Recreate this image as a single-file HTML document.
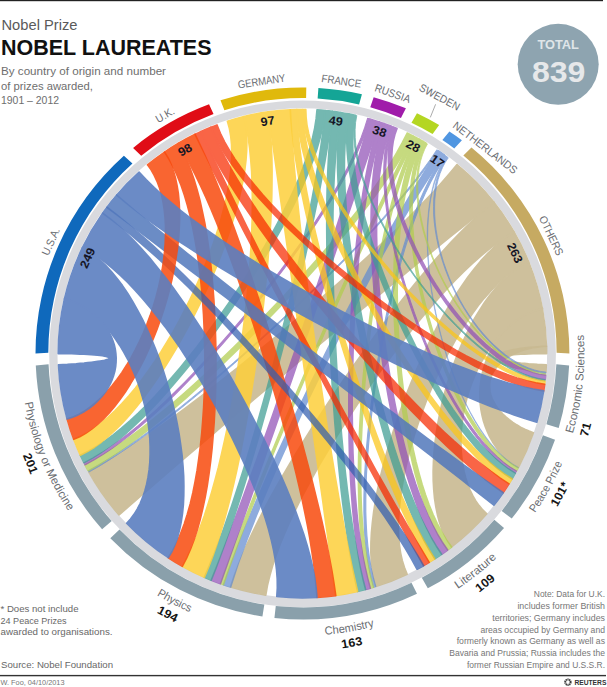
<!DOCTYPE html>
<html><head><meta charset="utf-8"><title>Nobel Laureates</title>
<style>html,body{margin:0;padding:0;background:#fff;}body{width:607px;height:687px;position:relative;overflow:hidden;font-family:"Liberation Sans",sans-serif;}</style>
</head><body>
<svg width="607" height="687" viewBox="0 0 607 687" style="position:absolute;left:0;top:0">
<path fill-rule="evenodd" fill="#d9dade" d="M49.20 353.85 a253.35 253.35 0 1 0 506.70 0 a253.35 253.35 0 1 0 -506.70 0Z M57.45 353.05 a244.85 244.85 0 1 0 489.70 0 a244.85 244.85 0 1 0 -489.70 0Z"/>
<path d="M35.50 353.50 A266.95 266.00 0 0 1 123.89 155.76 L132.45 163.38 A254.15 254.75 0 0 0 48.30 352.75 Z" fill="#0f69bc"/>
<path d="M133.08 147.90 A266.95 266.00 0 0 1 209.04 104.32 L213.52 114.10 A254.15 254.75 0 0 0 141.20 155.84 Z" fill="#e00c16"/>
<path d="M220.48 100.35 A266.95 266.00 0 0 1 306.29 87.53 L306.11 98.03 A254.15 254.75 0 0 0 224.41 110.31 Z" fill="#e0b90c"/>
<path d="M318.40 87.98 A266.95 266.00 0 0 1 361.93 94.19 L359.08 104.40 A254.15 254.75 0 0 0 317.63 98.45 Z" fill="#14a596"/>
<path d="M373.67 97.14 A266.95 266.00 0 0 1 405.91 108.29 L400.95 117.91 A254.15 254.75 0 0 0 370.26 107.23 Z" fill="#a01caa"/>
<path d="M416.97 113.22 A266.95 266.00 0 0 1 439.15 125.02 L432.59 133.94 A254.15 254.75 0 0 0 411.47 122.63 Z" fill="#b4d622"/>
<path d="M449.41 131.44 A266.95 266.00 0 0 1 461.91 140.17 L454.27 148.45 A254.15 254.75 0 0 0 442.36 140.08 Z" fill="#5096e1"/>
<path d="M471.46 147.60 A266.95 266.00 0 0 1 569.40 353.50 L556.60 352.75 A254.15 254.75 0 0 0 463.36 155.56 Z" fill="#c6aa62"/>
<path d="M569.13 365.57 A266.95 266.00 0 0 1 558.68 428.12 L546.39 424.22 A254.15 254.75 0 0 0 556.34 364.31 Z" fill="#8aa0ab"/>
<path d="M555.02 439.63 A266.95 266.00 0 0 1 511.74 518.62 L501.71 510.88 A254.15 254.75 0 0 0 542.91 435.24 Z" fill="#8aa0ab"/>
<path d="M504.01 527.91 A266.95 266.00 0 0 1 427.81 588.34 L421.80 577.66 A254.15 254.75 0 0 0 494.35 519.78 Z" fill="#8aa0ab"/>
<path d="M416.99 593.77 A266.95 266.00 0 0 1 274.43 618.03 L275.77 606.09 A254.15 254.75 0 0 0 411.50 582.86 Z" fill="#8aa0ab"/>
<path d="M262.42 616.49 A266.95 266.00 0 0 1 110.30 538.15 L119.51 529.59 A254.15 254.75 0 0 0 264.34 604.62 Z" fill="#8aa0ab"/>
<path d="M102.09 529.28 A266.95 266.00 0 0 1 35.77 365.57 L48.56 364.31 A254.15 254.75 0 0 0 111.70 521.09 Z" fill="#8aa0ab"/>
<g opacity="0.72" fill="#bba977" stroke="#bba977" stroke-linejoin="round">
<path d="M546.49 346.25 A244.20 244.20 0 0 1 546.60 353.65 L542.1 353.7 537.6 353.7 533.2 353.8 528.9 353.9 524.8 354.1 520.9 354.2 517.1 354.4 513.6 354.7 510.3 354.9 507.4 355.2 504.7 355.5 502.4 355.8 500.4 356.1 498.7 356.5 497.4 356.9 496.4 357.2 495.9 357.6 495.7 358.0 495.8 358.5 496.4 358.9 497.3 359.3 498.6 359.7 500.3 360.2 502.3 360.6 504.6 361.0 507.2 361.4 510.2 361.8 513.4 362.2 516.9 362.6 520.7 363.0 524.6 363.3 528.7 363.7 533.0 364.0 537.4 364.3 541.8 364.5 546.3 364.7 A244.20 244.20 0 0 1 545.90 372.11 L541.4 371.7 536.9 371.3 532.5 370.7 528.3 370.2 524.2 369.5 520.2 368.8 516.5 368.1 513.0 367.3 509.8 366.4 506.9 365.6 504.2 364.7 501.9 363.8 499.9 362.8 498.3 361.9 497.0 360.9 496.1 360.0 495.6 359.0 495.4 358.0 495.6 357.1 496.2 356.1 497.1 355.2 498.5 354.3 500.1 353.4 502.2 352.6 504.5 351.8 507.2 351.0 510.2 350.3 513.4 349.6 516.9 349.0 520.7 348.4 524.7 347.9 528.8 347.4 533.1 347.0 537.5 346.7 542.0 346.4 546.5 346.3 Z" stroke-width="1.60"/>
</g>
<g opacity="0.90" fill="#c9ba92" stroke="#c9ba92" stroke-linejoin="round">
<path d="M514.11 231.95 A244.20 244.20 0 0 1 528.84 262.23 L522.4 265.2 515.9 269.0 509.5 273.5 503.1 278.7 496.8 284.6 490.6 291.1 484.4 298.1 478.3 305.6 472.4 313.7 466.5 322.2 460.8 331.1 455.3 340.4 449.9 350.1 444.7 360.0 439.7 370.2 434.9 380.6 430.4 391.1 426.0 401.9 422.0 412.7 418.2 423.5 414.6 434.4 411.4 445.3 408.5 456.1 406.0 466.9 403.8 477.5 401.9 487.9 400.5 498.1 399.4 508.1 398.7 517.7 398.5 527.1 398.7 536.1 399.4 544.7 400.6 552.8 402.3 560.5 404.5 567.6 407.2 574.2 A244.20 244.20 0 0 1 375.84 586.54 L373.8 578.7 372.3 570.4 371.3 561.6 370.8 552.3 370.9 542.6 371.4 532.5 372.4 522.1 373.7 511.3 375.5 500.3 377.7 489.0 380.2 477.5 383.1 465.9 386.3 454.0 389.8 442.1 393.6 430.2 397.6 418.2 401.9 406.2 406.4 394.2 411.2 382.4 416.1 370.6 421.3 359.0 426.6 347.7 432.1 336.5 437.7 325.7 443.5 315.2 449.5 305.0 455.5 295.2 461.7 285.9 467.9 277.0 474.3 268.7 480.7 260.9 487.3 253.8 493.9 247.2 500.5 241.4 507.3 236.3 514.1 232.0 Z" stroke-width="1.60"/>
<path d="M493.84 202.04 A244.20 244.20 0 0 1 514.11 231.95 L505.7 237.1 497.4 242.9 488.9 249.3 480.5 256.3 472.0 263.8 463.5 271.9 455.0 280.4 446.5 289.4 438.1 298.7 429.6 308.4 421.1 318.5 412.7 328.8 404.3 339.4 396.0 350.3 387.7 361.3 379.5 372.5 371.4 383.9 363.5 395.4 355.6 407.0 348.0 418.7 340.5 430.4 333.2 442.1 326.1 453.8 319.2 465.4 312.7 477.0 306.4 488.6 300.4 500.0 294.8 511.3 289.5 522.5 284.7 533.5 280.2 544.3 276.3 554.9 272.8 565.3 269.9 575.5 267.5 585.4 265.8 595.1 A244.20 244.20 0 0 1 230.55 587.04 L234.0 576.6 237.9 565.9 242.3 555.1 247.0 544.1 252.2 533.0 257.7 521.8 263.5 510.4 269.6 498.9 276.0 487.4 282.7 475.7 289.6 464.0 296.7 452.2 304.0 440.4 311.5 428.5 319.1 416.7 326.9 404.8 334.7 393.0 342.7 381.2 350.8 369.5 359.0 357.9 367.2 346.4 375.5 334.9 383.8 323.7 392.2 312.6 400.6 301.7 409.0 291.0 417.5 280.6 425.9 270.4 434.4 260.6 442.9 251.0 451.3 241.8 459.8 233.0 468.3 224.6 476.8 216.6 485.3 209.1 493.8 202.0 Z" stroke-width="1.60"/>
<path d="M542.43 308.70 A244.20 244.20 0 0 1 546.49 346.25 L541.8 346.5 537.2 347.1 532.6 347.8 528.1 348.9 523.8 350.1 519.6 351.6 515.6 353.2 511.8 355.1 508.2 357.1 504.9 359.4 501.9 361.8 499.2 364.3 496.8 367.0 494.7 369.8 493.0 372.7 491.6 375.7 490.5 378.8 489.9 381.9 489.6 385.1 489.7 388.4 490.1 391.7 490.9 395.0 492.0 398.3 493.6 401.5 495.4 404.7 497.6 407.9 500.1 411.0 502.9 414.0 505.9 416.9 509.3 419.7 512.9 422.3 516.7 424.8 520.6 427.1 524.8 429.2 529.1 431.1 533.4 432.7 A244.20 244.20 0 0 1 518.49 467.40 L514.1 464.8 509.9 461.9 505.9 458.5 502.2 454.8 498.6 450.7 495.4 446.3 492.4 441.7 489.7 436.8 487.3 431.7 485.2 426.4 483.4 421.0 482.0 415.4 480.9 409.7 480.2 403.9 479.9 398.1 479.8 392.2 480.2 386.4 480.9 380.6 481.9 374.8 483.3 369.1 485.1 363.5 487.1 358.1 489.5 352.8 492.2 347.7 495.2 342.7 498.5 338.0 502.1 333.6 505.9 329.4 509.9 325.6 514.1 322.0 518.5 318.8 523.1 316.0 527.8 313.5 532.6 311.5 537.5 309.9 542.4 308.7 Z" stroke-width="1.60"/>
<path d="M528.84 262.23 A244.20 244.20 0 0 1 542.43 308.70 L537.1 310.0 531.8 311.9 526.5 314.3 521.2 317.3 516.1 320.7 511.1 324.6 506.2 329.0 501.4 333.8 496.9 339.0 492.5 344.5 488.4 350.4 484.5 356.6 480.8 363.0 477.5 369.7 474.4 376.6 471.6 383.7 469.1 390.9 466.9 398.3 465.1 405.7 463.6 413.2 462.4 420.8 461.6 428.3 461.1 435.8 461.0 443.2 461.2 450.5 461.8 457.6 462.8 464.6 464.1 471.4 465.8 477.9 467.8 484.2 470.1 490.1 472.8 495.7 475.8 500.9 479.2 505.6 482.8 509.9 486.8 513.8 A244.20 244.20 0 0 1 451.57 546.99 L447.9 541.6 444.7 535.7 441.8 529.2 439.4 522.2 437.4 514.7 435.8 506.8 434.5 498.5 433.7 489.8 433.2 480.8 433.1 471.6 433.4 462.1 434.0 452.4 435.0 442.5 436.3 432.5 438.0 422.5 439.9 412.4 442.2 402.3 444.8 392.3 447.6 382.3 450.8 372.5 454.2 362.8 457.8 353.3 461.7 344.0 465.9 335.0 470.2 326.3 474.8 318.0 479.6 310.1 484.5 302.5 489.6 295.5 494.9 288.9 500.3 282.9 505.8 277.5 511.4 272.6 517.2 268.5 523.0 265.0 528.8 262.2 Z" stroke-width="1.60"/>
<path d="M457.01 164.63 A244.20 244.20 0 0 1 493.84 202.04 L483.4 210.3 472.9 218.7 462.5 227.1 452.0 235.5 441.5 244.0 431.0 252.6 420.5 261.1 410.0 269.7 399.5 278.3 389.0 287.0 378.5 295.6 368.0 304.3 357.5 313.0 347.0 321.7 336.5 330.5 326.0 339.2 315.5 348.0 305.0 356.7 294.5 365.5 284.0 374.3 273.5 383.1 263.0 391.8 252.6 400.6 242.2 409.4 231.7 418.2 221.3 427.0 211.0 435.8 200.6 444.6 190.3 453.4 180.0 462.2 169.8 471.0 159.5 479.8 149.4 488.6 139.2 497.4 129.1 506.2 119.1 515.0 A244.20 244.20 0 0 1 88.86 472.12 L99.3 466.2 109.7 459.9 120.3 453.4 130.9 446.5 141.5 439.4 152.2 432.0 163.0 424.4 173.8 416.6 184.7 408.6 195.6 400.4 206.5 392.1 217.4 383.6 228.4 375.0 239.3 366.3 250.3 357.4 261.2 348.5 272.2 339.5 283.1 330.5 293.9 321.4 304.7 312.2 315.4 303.1 326.0 293.8 336.6 284.6 347.0 275.4 357.3 266.1 367.4 256.8 377.4 247.6 387.2 238.3 396.8 229.1 406.2 219.8 415.4 210.6 424.3 201.4 433.0 192.2 441.3 183.0 449.3 173.8 457.0 164.6 Z" stroke-width="1.60"/>
</g>
<g opacity="0.72" fill="#638cd0" stroke="#638cd0" stroke-linejoin="round">
<path d="M446.29 156.34 A244.20 244.20 0 0 1 446.95 156.83 L443.2 162.6 439.9 168.9 437.0 175.9 434.5 183.3 432.4 191.3 430.7 199.8 429.4 208.6 428.4 217.9 427.9 227.5 427.7 237.4 427.8 247.5 428.3 257.9 429.1 268.4 430.3 279.1 431.7 289.9 433.5 300.7 435.6 311.6 437.9 322.4 440.5 333.2 443.4 343.9 446.6 354.4 450.0 364.7 453.6 374.8 457.5 384.7 461.6 394.2 465.9 403.4 470.4 412.2 475.1 420.6 480.0 428.5 485.1 435.9 490.3 442.8 495.7 449.0 501.2 454.7 506.8 459.6 512.6 463.9 518.5 467.4 A244.20 244.20 0 0 1 518.10 468.13 L512.2 464.6 506.4 460.3 500.8 455.3 495.3 449.6 489.9 443.3 484.7 436.4 479.6 429.0 474.7 421.0 470.0 412.6 465.5 403.8 461.2 394.6 457.1 385.0 453.2 375.1 449.6 365.0 446.1 354.6 443.0 344.0 440.1 333.3 437.4 322.5 435.1 311.7 433.0 300.8 431.2 289.9 429.8 279.1 428.6 268.4 427.8 257.8 427.3 247.4 427.1 237.2 427.3 227.3 427.9 217.7 428.8 208.4 430.1 199.5 431.8 191.0 433.8 183.0 436.3 175.5 439.2 168.5 442.5 162.1 446.3 156.3 Z" stroke-width="0.57"/>
<path d="M446.95 156.83 A244.20 244.20 0 0 1 448.27 157.81 L445.1 162.6 442.4 167.8 440.0 173.5 438.1 179.6 436.6 186.0 435.5 192.7 434.8 199.8 434.6 207.0 434.7 214.5 435.2 222.2 436.1 229.9 437.4 237.8 439.1 245.8 441.1 253.7 443.4 261.7 446.2 269.6 449.2 277.5 452.5 285.3 456.2 292.9 460.1 300.3 464.3 307.6 468.8 314.6 473.5 321.3 478.4 327.8 483.5 333.9 488.8 339.7 494.2 345.1 499.8 350.1 505.4 354.7 511.2 358.8 517.0 362.4 522.8 365.5 528.7 368.0 534.5 370.0 540.2 371.4 545.9 372.1 A244.20 244.20 0 0 1 545.77 373.75 L540.1 373.0 534.3 371.5 528.4 369.5 522.6 366.9 516.7 363.8 510.9 360.1 505.1 355.9 499.4 351.3 493.8 346.2 488.4 340.7 483.1 334.9 477.9 328.6 473.0 322.1 468.3 315.2 463.8 308.1 459.5 300.8 455.6 293.3 451.9 285.6 448.5 277.7 445.4 269.8 442.7 261.8 440.2 253.7 438.2 245.6 436.5 237.6 435.2 229.7 434.2 221.8 433.6 214.1 433.5 206.5 433.7 199.2 434.4 192.1 435.4 185.3 436.9 178.8 438.8 172.7 441.1 166.9 443.8 161.6 447.0 156.8 Z" stroke-width="0.84"/>
<path d="M436.84 149.79 A244.20 244.20 0 0 1 438.21 150.70 L431.6 160.2 424.6 169.8 417.3 179.4 409.5 189.0 401.5 198.7 393.1 208.4 384.5 218.1 375.6 227.9 366.4 237.6 357.0 247.4 347.5 257.3 337.7 267.1 327.8 276.9 317.8 286.7 307.6 296.5 297.4 306.2 287.0 315.9 276.6 325.6 266.1 335.2 255.5 344.7 245.0 354.1 234.4 363.4 223.8 372.6 213.2 381.7 202.6 390.6 192.0 399.3 181.5 407.8 171.0 416.1 160.5 424.2 150.1 432.0 139.7 439.5 129.4 446.7 119.2 453.6 109.0 460.2 98.9 466.4 88.9 472.1 A244.20 244.20 0 0 1 88.07 470.68 L98.1 465.0 108.2 458.9 118.4 452.4 128.6 445.6 138.9 438.4 149.3 431.0 159.7 423.2 170.1 415.2 180.7 406.9 191.2 398.4 201.8 389.7 212.4 380.8 223.0 371.8 233.6 362.6 244.2 353.3 254.8 343.9 265.3 334.4 275.8 324.8 286.3 315.1 296.6 305.4 306.9 295.6 317.0 285.8 327.1 276.0 337.0 266.2 346.7 256.4 356.2 246.6 365.6 236.7 374.7 227.0 383.6 217.2 392.2 207.5 400.5 197.8 408.5 188.1 416.2 178.5 423.4 168.9 430.4 159.3 436.8 149.8 Z" stroke-width="0.84"/>
<path d="M444.29 154.90 A244.20 244.20 0 0 1 446.29 156.34 L440.8 164.3 435.6 172.9 430.7 182.1 425.9 191.9 421.4 202.1 417.1 212.9 412.9 224.1 409.0 235.6 405.2 247.6 401.6 259.9 398.2 272.5 394.9 285.3 391.8 298.4 388.8 311.7 386.0 325.1 383.3 338.7 380.8 352.4 378.5 366.1 376.3 379.9 374.3 393.6 372.5 407.3 370.9 421.0 369.5 434.5 368.3 447.9 367.3 461.1 366.5 474.2 366.0 487.0 365.8 499.5 365.8 511.7 366.2 523.6 366.9 535.2 367.9 546.4 369.3 557.1 371.0 567.4 373.2 577.2 375.8 586.5 A244.20 244.20 0 0 1 373.49 587.27 L370.9 577.9 368.8 567.9 367.1 557.6 365.8 546.7 364.8 535.5 364.2 523.9 363.9 511.9 363.9 499.6 364.1 487.0 364.7 474.2 365.5 461.1 366.5 447.8 367.7 434.4 369.2 420.8 370.8 407.2 372.6 393.4 374.6 379.6 376.8 365.8 379.2 352.1 381.7 338.4 384.3 324.8 387.1 311.3 390.1 298.0 393.2 284.8 396.5 271.9 399.9 259.3 403.5 246.9 407.2 234.9 411.1 223.3 415.3 212.0 419.5 201.2 424.0 190.9 428.8 181.0 433.7 171.7 438.9 163.0 444.3 154.9 Z" stroke-width="1.11"/>
<path d="M438.21 150.70 A244.20 244.20 0 0 1 444.29 154.90 L437.3 164.9 430.3 175.2 423.5 185.8 416.7 196.6 409.9 207.6 403.2 218.9 396.5 230.3 389.8 242.0 383.2 253.8 376.6 265.7 370.1 277.8 363.6 290.0 357.1 302.3 350.6 314.7 344.2 327.2 337.8 339.7 331.5 352.3 325.2 364.9 319.0 377.6 312.8 390.3 306.7 402.9 300.7 415.6 294.8 428.3 288.9 440.9 283.2 453.5 277.6 466.0 272.1 478.5 266.7 490.9 261.5 503.3 256.4 515.5 251.6 527.7 246.9 539.8 242.5 551.8 238.2 563.6 234.3 575.4 230.6 587.0 A244.20 244.20 0 0 1 223.52 584.76 L227.6 573.0 232.0 561.1 236.5 549.2 241.3 537.1 246.2 525.0 251.3 512.8 256.5 500.5 261.9 488.2 267.4 475.8 273.0 463.3 278.7 450.8 284.5 438.3 290.4 425.7 296.3 413.1 302.4 400.6 308.5 387.9 314.6 375.3 320.8 362.8 327.1 350.2 333.3 337.7 339.7 325.2 346.0 312.7 352.4 300.3 358.8 288.0 365.2 275.8 371.7 263.7 378.2 251.7 384.7 239.8 391.3 228.0 397.8 216.4 404.5 205.0 411.1 193.7 417.8 182.6 424.5 171.8 431.3 161.1 438.2 150.7 Z" stroke-width="1.60"/>
</g>
<g opacity="0.72" fill="#b1cd4f" stroke="#b1cd4f" stroke-linejoin="round">
<path d="M426.03 143.06 A244.20 244.20 0 0 1 427.45 143.90 L424.7 149.2 422.4 155.0 420.5 161.2 419.2 167.8 418.3 174.8 417.8 182.1 417.8 189.6 418.2 197.5 419.1 205.5 420.3 213.7 422.0 222.0 424.0 230.4 426.4 238.9 429.2 247.4 432.3 255.9 435.8 264.3 439.5 272.7 443.6 281.0 448.0 289.1 452.6 297.0 457.5 304.7 462.6 312.2 467.9 319.4 473.4 326.3 479.0 332.8 484.8 339.0 490.8 344.8 496.8 350.1 502.9 355.0 509.1 359.4 515.3 363.3 521.5 366.6 527.7 369.3 533.8 371.4 539.8 372.9 545.8 373.8 A244.20 244.20 0 0 1 545.63 375.39 L539.7 374.5 533.6 373.0 527.5 370.8 521.3 368.0 515.0 364.6 508.8 360.7 502.6 356.2 496.5 351.3 490.4 345.9 484.4 340.0 478.6 333.8 472.9 327.1 467.4 320.2 462.0 312.9 456.9 305.3 452.0 297.5 447.3 289.5 442.9 281.3 438.8 273.0 435.0 264.5 431.5 256.0 428.3 247.4 425.5 238.9 423.0 230.3 421.0 221.8 419.3 213.4 418.0 205.2 417.1 197.1 416.6 189.2 416.6 181.6 417.0 174.2 417.9 167.2 419.2 160.5 421.0 154.3 423.3 148.4 426.0 143.1 Z" stroke-width="0.84"/>
<path d="M423.19 141.41 A244.20 244.20 0 0 1 426.03 143.06 L422.7 149.4 419.9 156.4 417.5 164.0 415.6 172.0 414.1 180.6 413.1 189.6 412.5 199.0 412.2 208.8 412.4 218.9 412.9 229.2 413.8 239.9 415.0 250.7 416.5 261.7 418.4 272.8 420.6 284.1 423.1 295.3 425.9 306.6 428.9 317.8 432.2 329.0 435.7 340.0 439.5 350.9 443.6 361.6 447.8 372.1 452.2 382.3 456.9 392.1 461.7 401.6 466.7 410.8 471.9 419.4 477.2 427.6 482.7 435.3 488.3 442.4 494.0 448.9 499.9 454.8 505.9 460.0 511.9 464.4 518.1 468.1 A244.20 244.20 0 0 1 516.54 471.02 L510.3 467.2 504.3 462.6 498.3 457.3 492.4 451.3 486.6 444.7 481.0 437.4 475.5 429.6 470.2 421.3 465.0 412.5 460.0 403.2 455.2 393.6 450.5 383.6 446.0 373.3 441.8 362.7 437.7 351.8 433.9 340.8 430.3 329.7 427.0 318.4 423.9 307.0 421.1 295.6 418.6 284.2 416.3 272.9 414.4 261.6 412.8 250.5 411.5 239.5 410.6 228.8 410.0 218.3 409.8 208.1 410.0 198.2 410.6 188.7 411.5 179.5 413.0 170.9 414.8 162.7 417.1 155.0 419.9 147.9 423.2 141.4 Z" stroke-width="1.38"/>
<path d="M415.98 137.47 A244.20 244.20 0 0 1 418.88 139.02 L414.2 148.2 409.8 157.8 405.7 168.0 401.9 178.7 398.2 189.8 394.8 201.3 391.6 213.1 388.6 225.4 385.7 237.9 383.0 250.8 380.5 263.9 378.2 277.2 376.0 290.7 373.9 304.4 372.0 318.2 370.2 332.2 368.6 346.2 367.1 360.2 365.7 374.3 364.5 388.3 363.5 402.3 362.6 416.2 361.9 430.0 361.3 443.7 360.9 457.3 360.8 470.6 360.8 483.7 361.1 496.6 361.6 509.2 362.4 521.5 363.4 533.4 364.8 545.0 366.4 556.2 368.4 567.0 370.8 577.4 373.5 587.3 A244.20 244.20 0 0 1 370.34 588.21 L367.7 578.2 365.4 567.7 363.5 556.8 362.0 545.5 360.7 533.8 359.7 521.7 359.0 509.4 358.6 496.7 358.3 483.8 358.3 470.6 358.5 457.2 358.9 443.7 359.5 429.9 360.2 416.1 361.2 402.1 362.2 388.1 363.4 374.0 364.8 360.0 366.3 345.9 367.9 331.9 369.7 317.9 371.6 304.1 373.6 290.3 375.8 276.8 378.2 263.4 380.6 250.3 383.3 237.4 386.1 224.7 389.1 212.4 392.3 200.5 395.6 188.9 399.2 177.7 403.0 166.9 407.1 156.6 411.4 146.8 416.0 137.5 Z" stroke-width="1.38"/>
<path d="M413.06 135.96 A244.20 244.20 0 0 1 415.98 137.47 L410.0 148.9 404.1 160.5 398.2 172.3 392.4 184.1 386.6 196.1 380.9 208.2 375.1 220.3 369.4 232.6 363.7 244.9 358.1 257.4 352.4 269.8 346.8 282.4 341.2 295.0 335.6 307.6 330.0 320.3 324.5 333.0 319.0 345.7 313.5 358.4 308.0 371.2 302.6 383.9 297.1 396.7 291.8 409.4 286.4 422.2 281.2 434.9 275.9 447.6 270.7 460.3 265.6 472.9 260.6 485.5 255.6 498.1 250.7 510.6 245.9 523.1 241.2 535.6 236.6 548.0 232.1 560.3 227.7 572.6 223.5 584.8 A244.20 244.20 0 0 1 220.41 583.68 L224.8 571.4 229.4 559.1 234.0 546.7 238.7 534.3 243.6 521.9 248.5 509.4 253.4 496.9 258.5 484.3 263.6 471.7 268.7 459.1 274.0 446.5 279.2 433.8 284.5 421.1 289.9 408.4 295.2 395.7 300.6 383.0 306.1 370.3 311.5 357.6 317.0 344.9 322.5 332.2 328.0 319.5 333.5 306.9 339.1 294.3 344.6 281.7 350.2 269.2 355.8 256.7 361.4 244.3 367.1 231.9 372.7 219.6 378.4 207.4 384.1 195.2 389.8 183.2 395.6 171.2 401.4 159.4 407.2 147.6 413.1 136.0 Z" stroke-width="1.38"/>
<path d="M418.88 139.02 A244.20 244.20 0 0 1 423.19 141.41 L419.2 149.2 415.5 157.6 412.3 166.6 409.4 176.1 406.9 186.2 404.7 196.7 402.8 207.7 401.2 219.1 399.9 230.8 398.8 242.9 398.1 255.3 397.5 267.9 397.3 280.8 397.2 293.8 397.4 306.9 397.8 320.2 398.4 333.5 399.3 346.9 400.3 360.2 401.5 373.5 403.0 386.7 404.6 399.7 406.5 412.6 408.6 425.3 410.8 437.7 413.3 449.9 416.0 461.7 419.0 473.2 422.1 484.2 425.5 494.8 429.2 505.0 433.1 514.6 437.3 523.6 441.8 532.1 446.5 539.9 451.6 547.0 A244.20 244.20 0 0 1 447.64 549.96 L442.6 542.6 437.9 534.6 433.5 526.0 429.4 516.7 425.5 506.9 421.9 496.6 418.6 485.9 415.4 474.7 412.5 463.1 409.9 451.1 407.4 438.8 405.2 426.2 403.1 413.4 401.3 400.4 399.6 387.3 398.2 373.9 397.0 360.6 395.9 347.1 395.1 333.6 394.4 320.2 394.0 306.8 393.8 293.6 393.8 280.4 394.1 267.4 394.5 254.7 395.3 242.2 396.2 230.0 397.5 218.1 399.0 206.5 400.8 195.4 403.0 184.7 405.4 174.5 408.2 164.8 411.4 155.6 414.9 147.0 418.9 139.0 Z" stroke-width="1.60"/>
<path d="M407.16 133.06 A244.20 244.20 0 0 1 413.06 135.96 L407.9 145.7 402.2 155.5 396.0 165.5 389.5 175.5 382.5 185.5 375.2 195.7 367.5 205.9 359.5 216.1 351.2 226.5 342.7 236.8 333.9 247.2 324.9 257.6 315.7 268.0 306.3 278.4 296.8 288.8 287.1 299.1 277.3 309.5 267.4 319.7 257.5 329.9 247.5 340.0 237.4 349.9 227.3 359.8 217.2 369.4 207.0 378.9 196.9 388.2 186.8 397.3 176.7 406.2 166.6 414.8 156.6 423.1 146.6 431.1 136.7 438.7 126.9 445.9 117.1 452.8 107.3 459.2 97.7 465.2 88.1 470.7 A244.20 244.20 0 0 1 84.99 464.86 L94.5 459.7 104.1 454.1 113.8 447.9 123.6 441.3 133.4 434.3 143.3 426.9 153.3 419.1 163.3 410.9 173.4 402.5 183.5 393.8 193.6 384.8 203.7 375.5 213.9 366.1 224.0 356.5 234.1 346.7 244.2 336.7 254.2 326.7 264.2 316.5 274.0 306.3 283.8 296.0 293.4 285.6 302.9 275.2 312.2 264.8 321.4 254.4 330.3 244.0 339.0 233.6 347.4 223.3 355.6 212.9 363.4 202.7 370.9 192.5 378.0 182.4 384.8 172.3 391.1 162.4 396.9 152.5 402.3 142.7 407.2 133.1 Z" stroke-width="1.60"/>
</g>
<g opacity="0.72" fill="#9151b7" stroke="#9151b7" stroke-linejoin="round">
<path d="M390.95 126.07 A244.20 244.20 0 0 1 393.24 126.97 L390.7 134.3 388.7 142.2 387.3 150.5 386.3 159.4 385.8 168.7 385.8 178.4 386.2 188.5 387.1 199.0 388.3 209.7 389.9 220.7 391.9 231.9 394.3 243.3 396.9 254.8 399.9 266.5 403.2 278.2 406.7 290.0 410.5 301.7 414.6 313.4 418.9 325.1 423.4 336.6 428.1 347.9 433.1 359.0 438.2 369.9 443.4 380.5 448.9 390.8 454.5 400.7 460.2 410.3 466.0 419.3 472.0 427.9 478.1 436.0 484.3 443.5 490.6 450.4 497.0 456.6 503.4 462.2 509.9 467.0 516.5 471.0 A244.20 244.20 0 0 1 515.35 473.18 L508.7 469.0 502.2 464.1 495.7 458.5 489.3 452.1 483.0 445.2 476.8 437.6 470.7 429.4 464.7 420.7 458.9 411.6 453.1 401.9 447.5 391.9 442.1 381.6 436.8 370.9 431.7 359.9 426.7 348.7 422.0 337.3 417.4 325.7 413.1 314.0 409.0 302.2 405.2 290.4 401.6 278.5 398.3 266.7 395.3 255.0 392.6 243.4 390.2 231.9 388.2 220.6 386.5 209.5 385.2 198.7 384.3 188.2 383.8 178.0 383.8 168.2 384.2 158.8 385.1 149.9 386.5 141.4 388.5 133.5 390.9 126.1 Z" stroke-width="1.11"/>
<path d="M367.55 118.30 A244.20 244.20 0 0 1 369.93 118.97 L366.9 128.6 363.2 138.5 359.0 148.5 354.3 158.8 349.0 169.1 343.4 179.6 337.3 190.2 330.8 201.0 323.9 211.8 316.8 222.7 309.3 233.7 301.5 244.8 293.5 255.8 285.3 266.9 276.9 278.0 268.3 289.0 259.5 300.0 250.6 311.0 241.6 321.8 232.5 332.5 223.3 343.1 214.0 353.5 204.7 363.7 195.4 373.7 186.0 383.4 176.7 392.8 167.3 402.0 158.0 410.8 148.7 419.2 139.4 427.2 130.2 434.8 121.0 441.9 111.9 448.5 102.9 454.5 93.9 460.0 85.0 464.9 A244.20 244.20 0 0 1 83.88 462.66 L92.8 457.9 101.7 452.6 110.7 446.6 119.8 440.1 129.0 433.1 138.2 425.6 147.5 417.6 156.7 409.3 166.1 400.6 175.4 391.5 184.8 382.1 194.1 372.4 203.4 362.5 212.7 352.3 222.0 341.9 231.2 331.4 240.3 320.7 249.3 309.9 258.1 299.0 266.9 288.0 275.5 277.0 283.9 265.9 292.1 254.8 300.1 243.8 307.8 232.7 315.2 221.8 322.3 210.9 329.1 200.0 335.5 189.3 341.6 178.7 347.2 168.2 352.3 157.9 356.9 147.7 361.1 137.7 364.6 127.9 367.6 118.3 Z" stroke-width="1.11"/>
<path d="M393.24 126.97 A244.20 244.20 0 0 1 397.04 128.54 L394.9 134.5 393.3 141.0 392.3 147.9 391.8 155.2 391.8 162.8 392.2 170.7 393.2 178.9 394.7 187.3 396.5 195.9 398.9 204.7 401.6 213.6 404.7 222.6 408.2 231.6 412.1 240.7 416.3 249.7 420.8 258.7 425.6 267.6 430.8 276.4 436.1 285.0 441.7 293.4 447.5 301.6 453.6 309.6 459.8 317.2 466.1 324.6 472.6 331.5 479.2 338.1 485.8 344.3 492.6 350.0 499.3 355.2 506.1 359.9 512.9 364.0 519.6 367.6 526.3 370.5 532.9 372.8 539.3 374.5 545.6 375.4 A244.20 244.20 0 0 1 545.23 379.48 L538.8 378.4 532.3 376.7 525.7 374.2 518.9 371.1 512.1 367.4 505.3 363.1 498.4 358.3 491.6 352.9 484.8 347.0 478.0 340.7 471.4 333.9 464.8 326.8 458.4 319.3 452.1 311.4 446.0 303.3 440.1 294.9 434.3 286.3 428.9 277.5 423.7 268.6 418.7 259.5 414.1 250.3 409.8 241.1 405.8 231.9 402.2 222.7 398.9 213.6 396.1 204.5 393.6 195.6 391.6 186.8 390.1 178.3 389.0 169.9 388.4 161.9 388.3 154.1 388.7 146.7 389.7 139.7 391.2 133.1 393.2 127.0 Z" stroke-width="1.60"/>
<path d="M379.35 121.89 A244.20 244.20 0 0 1 384.01 123.49 L380.6 133.9 377.4 144.7 374.5 155.9 371.8 167.5 369.4 179.5 367.2 191.7 365.2 204.3 363.3 217.1 361.7 230.2 360.2 243.5 358.8 257.0 357.6 270.7 356.5 284.6 355.6 298.5 354.7 312.6 354.0 326.7 353.4 340.9 353.0 355.1 352.6 369.4 352.4 383.6 352.2 397.7 352.2 411.8 352.4 425.8 352.6 439.7 353.0 453.4 353.6 467.0 354.3 480.4 355.2 493.5 356.3 506.5 357.5 519.1 359.0 531.5 360.8 543.5 362.7 555.3 365.0 566.6 367.5 577.6 370.3 588.2 A244.20 244.20 0 0 1 365.59 589.53 L362.9 578.7 360.5 567.6 358.4 556.0 356.6 544.1 355.0 532.0 353.6 519.5 352.4 506.7 351.4 493.7 350.6 480.5 349.9 467.0 349.4 453.4 349.1 439.7 348.9 425.8 348.8 411.8 348.8 397.6 348.9 383.5 349.2 369.3 349.6 355.0 350.0 340.8 350.6 326.6 351.3 312.5 352.1 298.4 353.0 284.4 354.1 270.5 355.2 256.8 356.5 243.2 358.0 229.9 359.5 216.7 361.3 203.8 363.2 191.1 365.4 178.7 367.7 166.7 370.2 154.9 373.0 143.5 376.0 132.5 379.3 121.9 Z" stroke-width="1.60"/>
<path d="M384.01 123.49 A244.20 244.20 0 0 1 390.95 126.07 L387.8 134.9 385.2 144.3 382.9 154.3 381.0 164.7 379.5 175.5 378.3 186.8 377.4 198.5 376.9 210.5 376.6 222.8 376.6 235.4 376.9 248.3 377.4 261.4 378.1 274.7 379.1 288.1 380.2 301.7 381.6 315.3 383.1 328.9 384.9 342.6 386.8 356.3 388.9 369.9 391.2 383.4 393.6 396.7 396.2 409.9 399.0 422.9 402.0 435.7 405.1 448.2 408.4 460.4 411.9 472.2 415.6 483.7 419.5 494.7 423.6 505.3 427.9 515.3 432.5 524.9 437.3 533.9 442.3 542.2 447.6 550.0 A244.20 244.20 0 0 1 441.63 554.27 L436.4 546.2 431.4 537.5 426.7 528.2 422.2 518.4 418.0 508.1 414.0 497.2 410.2 486.0 406.5 474.3 403.1 462.3 399.8 450.0 396.8 437.3 393.9 424.4 391.1 411.2 388.5 397.9 386.1 384.4 383.8 370.8 381.8 357.1 379.8 343.3 378.1 329.5 376.5 315.7 375.1 302.0 373.9 288.3 372.9 274.8 372.1 261.4 371.5 248.1 371.1 235.1 371.0 222.3 371.2 209.8 371.6 197.6 372.3 185.8 373.4 174.3 374.7 163.2 376.5 152.5 378.6 142.4 381.1 132.7 384.0 123.5 Z" stroke-width="1.60"/>
<path d="M369.93 118.97 A244.20 244.20 0 0 1 379.35 121.89 L375.1 134.7 370.8 147.5 366.5 160.3 362.2 173.1 357.9 185.9 353.6 198.7 349.2 211.6 344.9 224.4 340.5 237.3 336.1 250.1 331.7 263.0 327.3 275.9 322.9 288.7 318.5 301.6 314.1 314.5 309.7 327.4 305.2 340.2 300.8 353.1 296.4 366.0 292.0 378.9 287.5 391.7 283.1 404.6 278.6 417.4 274.2 430.3 269.7 443.1 265.3 456.0 260.8 468.8 256.3 481.6 251.9 494.4 247.4 507.2 242.9 520.0 238.4 532.8 233.9 545.5 229.4 558.3 224.9 571.0 220.4 583.7 A244.20 244.20 0 0 1 211.19 580.18 L216.1 568.0 220.9 555.7 225.7 543.3 230.5 530.8 235.2 518.3 239.9 505.7 244.6 493.1 249.2 480.3 253.9 467.6 258.5 454.7 263.1 441.9 267.7 429.0 272.3 416.1 276.8 403.1 281.4 390.1 285.9 377.1 290.4 364.1 294.9 351.1 299.4 338.0 303.8 325.0 308.3 312.0 312.7 298.9 317.1 285.9 321.4 272.9 325.7 259.9 330.0 247.0 334.3 234.0 338.5 221.1 342.6 208.2 346.7 195.3 350.8 182.5 354.8 169.7 358.7 157.0 362.5 144.3 366.3 131.6 369.9 119.0 Z" stroke-width="1.60"/>
</g>
<g opacity="0.72" fill="#3f9e94" stroke="#3f9e94" stroke-linejoin="round">
<path d="M355.21 115.23 A244.20 244.20 0 0 1 356.81 115.59 L355.6 122.4 355.1 129.7 355.2 137.3 355.8 145.3 357.1 153.6 358.8 162.1 361.1 170.9 363.9 180.0 367.2 189.1 370.9 198.5 375.1 207.9 379.6 217.4 384.5 226.9 389.8 236.5 395.4 246.0 401.3 255.5 407.4 264.8 413.8 274.1 420.5 283.2 427.3 292.0 434.4 300.7 441.6 309.0 448.9 317.1 456.3 324.9 463.8 332.2 471.4 339.2 479.0 345.8 486.7 351.8 494.3 357.4 501.9 362.4 509.4 366.9 516.8 370.8 524.1 374.0 531.3 376.5 538.4 378.4 545.2 379.5 A244.20 244.20 0 0 1 545.05 381.11 L538.2 380.0 531.1 378.1 523.9 375.5 516.5 372.2 509.0 368.3 501.5 363.7 493.9 358.6 486.2 353.0 478.6 346.9 470.9 340.3 463.3 333.2 455.8 325.8 448.3 318.0 440.9 309.8 433.7 301.4 426.6 292.7 419.8 283.8 413.1 274.6 406.6 265.3 400.4 255.9 394.5 246.4 388.8 236.8 383.5 227.2 378.5 217.6 374.0 208.1 369.8 198.6 366.0 189.2 362.7 180.0 359.8 170.9 357.5 162.1 355.7 153.5 354.4 145.1 353.7 137.1 353.6 129.4 354.1 122.1 355.2 115.2 Z" stroke-width="0.84"/>
<path d="M348.77 113.89 A244.20 244.20 0 0 1 355.21 115.23 L353.7 123.5 352.9 132.2 352.6 141.3 352.8 150.9 353.6 160.9 354.8 171.2 356.5 181.8 358.6 192.8 361.2 203.9 364.1 215.4 367.4 227.0 371.0 238.7 374.9 250.6 379.2 262.6 383.7 274.6 388.4 286.6 393.4 298.6 398.7 310.6 404.1 322.4 409.7 334.2 415.5 345.8 421.5 357.1 427.6 368.3 433.8 379.1 440.2 389.6 446.6 399.8 453.2 409.6 459.8 418.9 466.6 427.8 473.4 436.2 480.2 444.0 487.2 451.2 494.1 457.7 501.2 463.6 508.2 468.8 515.3 473.2 A244.20 244.20 0 0 1 512.05 478.87 L504.9 474.2 497.8 468.7 490.7 462.6 483.7 455.8 476.7 448.3 469.9 440.3 463.0 431.7 456.3 422.6 449.6 413.0 443.0 403.0 436.5 392.7 430.1 381.9 423.9 370.9 417.7 359.6 411.7 348.0 405.9 336.3 400.2 324.4 394.7 312.4 389.4 300.2 384.3 288.1 379.4 275.9 374.8 263.7 370.5 251.6 366.4 239.6 362.7 227.7 359.3 215.9 356.2 204.3 353.5 193.0 351.3 181.9 349.4 171.1 348.0 160.6 347.1 150.4 346.7 140.6 346.8 131.3 347.5 122.4 348.8 113.9 Z" stroke-width="1.60"/>
<path d="M325.18 110.52 A244.20 244.20 0 0 1 332.54 111.32 L330.9 123.7 329.1 136.2 327.1 148.8 324.9 161.6 322.5 174.5 320.1 187.5 317.4 200.6 314.7 213.7 311.9 227.0 308.9 240.3 305.9 253.7 302.8 267.2 299.6 280.7 296.3 294.2 293.0 307.8 289.6 321.4 286.1 335.0 282.7 348.5 279.1 362.1 275.5 375.7 271.9 389.2 268.2 402.7 264.5 416.1 260.8 429.4 257.0 442.7 253.1 455.9 249.2 469.0 245.3 482.0 241.3 494.8 237.2 507.5 233.1 520.1 228.9 532.5 224.6 544.7 220.2 556.7 215.8 568.6 211.2 580.2 A244.20 244.20 0 0 1 204.37 577.31 L209.2 566.1 213.9 554.6 218.4 542.8 222.9 530.8 227.2 518.6 231.5 506.2 235.7 493.6 239.8 480.9 243.9 468.0 247.9 454.9 251.8 441.8 255.7 428.5 259.5 415.1 263.3 401.7 267.0 388.1 270.7 374.6 274.3 361.0 277.9 347.3 281.4 333.6 284.8 320.0 288.2 306.3 291.5 292.7 294.7 279.1 297.9 265.6 300.9 252.1 303.9 238.6 306.7 225.3 309.4 212.0 312.0 198.9 314.4 185.8 316.7 172.9 318.8 160.1 320.7 147.5 322.4 135.0 323.9 122.7 325.2 110.5 Z" stroke-width="1.60"/>
<path d="M340.67 112.47 A244.20 244.20 0 0 1 348.77 113.89 L347.1 124.0 345.8 134.5 345.0 145.4 344.5 156.7 344.4 168.4 344.6 180.4 345.2 192.7 346.0 205.2 347.1 218.1 348.4 231.1 350.0 244.3 351.8 257.7 353.8 271.3 356.0 285.0 358.4 298.7 360.9 312.5 363.6 326.3 366.4 340.2 369.4 353.9 372.5 367.7 375.8 381.3 379.2 394.9 382.7 408.2 386.3 421.4 390.1 434.4 394.0 447.2 398.0 459.6 402.2 471.8 406.5 483.6 411.0 495.1 415.6 506.2 420.4 516.8 425.4 526.9 430.6 536.6 436.0 545.7 441.6 554.3 A244.20 244.20 0 0 1 434.80 558.85 L429.3 549.9 424.0 540.4 419.0 530.4 414.1 519.9 409.4 509.0 404.9 497.7 400.5 486.1 396.2 474.0 392.1 461.7 388.2 449.1 384.3 436.2 380.6 423.1 377.0 409.8 373.5 396.3 370.2 382.7 366.9 369.0 363.8 355.2 360.8 341.3 358.0 327.4 355.2 313.6 352.7 299.7 350.3 285.9 348.0 272.2 345.9 258.5 344.0 245.1 342.3 231.7 340.9 218.6 339.6 205.6 338.7 192.9 338.0 180.5 337.5 168.3 337.4 156.4 337.7 144.9 338.3 133.7 339.3 122.9 340.7 112.5 Z" stroke-width="1.60"/>
<path d="M332.54 111.32 A244.20 244.20 0 0 1 340.67 112.47 L339.0 124.2 337.5 136.1 336.3 148.3 335.3 160.8 334.4 173.5 333.8 186.4 333.3 199.5 333.0 212.8 332.8 226.2 332.7 239.8 332.8 253.6 332.9 267.4 333.2 281.3 333.6 295.4 334.0 309.4 334.6 323.6 335.2 337.7 335.9 351.9 336.7 366.1 337.5 380.2 338.4 394.3 339.5 408.4 340.6 422.4 341.7 436.2 343.0 450.0 344.4 463.7 345.9 477.2 347.5 490.5 349.2 503.7 351.0 516.7 353.0 529.5 355.2 542.0 357.5 554.3 360.0 566.3 362.7 578.1 365.6 589.5 A244.20 244.20 0 0 1 357.61 591.53 L355.0 579.7 352.6 567.7 350.3 555.4 348.2 542.8 346.3 530.1 344.5 517.2 342.8 504.1 341.2 490.8 339.8 477.3 338.4 463.8 337.1 450.1 336.0 436.3 334.8 422.4 333.8 408.5 332.8 394.5 331.9 380.4 331.1 366.3 330.3 352.2 329.6 338.1 329.0 324.0 328.4 309.9 327.9 295.8 327.5 281.9 327.2 267.9 326.9 254.1 326.8 240.4 326.7 226.7 326.8 213.2 326.9 199.9 327.2 186.6 327.7 173.6 328.3 160.7 329.1 148.0 330.0 135.6 331.2 123.3 332.5 111.3 Z" stroke-width="1.60"/>
<path d="M316.99 109.89 A244.20 244.20 0 0 1 325.18 110.52 L324.0 119.8 322.2 129.4 319.8 139.2 316.8 149.4 313.3 159.7 309.2 170.3 304.8 181.1 299.9 192.1 294.6 203.2 288.9 214.4 282.9 225.8 276.5 237.3 269.9 248.8 263.0 260.3 255.9 271.9 248.5 283.4 241.0 294.9 233.3 306.3 225.4 317.6 217.4 328.8 209.3 339.8 201.1 350.6 192.9 361.2 184.5 371.5 176.1 381.6 167.7 391.3 159.3 400.7 150.8 409.6 142.3 418.2 133.9 426.2 125.5 433.8 117.1 440.8 108.7 447.2 100.4 453.0 92.1 458.2 83.9 462.7 A244.20 244.20 0 0 1 80.34 455.25 L88.5 451.2 96.7 446.4 104.9 440.9 113.2 434.8 121.5 428.1 129.9 420.8 138.3 413.0 146.7 404.7 155.1 396.0 163.5 386.8 171.9 377.3 180.3 367.4 188.5 357.3 196.8 346.9 204.9 336.2 212.9 325.3 220.9 314.3 228.6 303.1 236.3 291.8 243.7 280.4 250.9 269.0 257.9 257.6 264.7 246.2 271.2 234.8 277.4 223.4 283.2 212.2 288.7 201.0 293.8 190.0 298.5 179.2 302.7 168.6 306.5 158.1 309.8 147.9 312.5 138.0 314.6 128.3 316.1 118.9 317.0 109.9 Z" stroke-width="1.60"/>
</g>
<g opacity="0.72" fill="#fcc617" stroke="#fcc617" stroke-linejoin="round">
<path d="M302.63 109.45 A244.20 244.20 0 0 1 305.92 109.48 L306.2 117.1 307.1 125.1 308.8 133.4 311.1 141.9 314.0 150.7 317.5 159.7 321.5 168.8 326.1 178.2 331.1 187.6 336.6 197.2 342.5 206.8 348.8 216.5 355.4 226.2 362.4 235.8 369.7 245.5 377.3 255.0 385.1 264.5 393.1 273.8 401.3 282.9 409.7 291.9 418.2 300.6 426.9 309.0 435.6 317.2 444.3 325.0 453.1 332.5 462.0 339.6 470.7 346.2 479.5 352.4 488.2 358.1 496.7 363.3 505.2 367.9 513.5 371.9 521.7 375.2 529.7 377.9 537.5 379.9 545.1 381.1 A244.20 244.20 0 0 1 544.66 384.38 L537.0 383.0 529.2 380.9 521.1 378.2 512.9 374.7 504.5 370.6 495.9 365.9 487.3 360.6 478.6 354.8 469.8 348.5 460.9 341.7 452.1 334.6 443.2 327.0 434.4 319.0 425.6 310.8 416.9 302.2 408.3 293.4 399.9 284.4 391.6 275.2 383.5 265.8 375.6 256.2 367.9 246.6 360.5 236.9 353.5 227.1 346.7 217.4 340.3 207.6 334.3 197.9 328.7 188.3 323.6 178.8 318.9 169.4 314.8 160.1 311.2 151.1 308.2 142.2 305.8 133.6 304.1 125.3 303.0 117.2 302.6 109.5 Z" stroke-width="1.38"/>
<path d="M296.87 109.51 A244.20 244.20 0 0 1 302.63 109.45 L302.9 118.7 303.9 128.4 305.4 138.3 307.4 148.6 310.0 159.2 313.0 170.0 316.5 181.1 320.4 192.4 324.7 203.9 329.3 215.6 334.3 227.4 339.6 239.3 345.2 251.3 351.0 263.3 357.1 275.4 363.4 287.5 370.0 299.6 376.6 311.6 383.5 323.5 390.5 335.2 397.6 346.9 404.9 358.3 412.2 369.5 419.6 380.5 427.1 391.1 434.7 401.5 442.3 411.5 450.0 421.0 457.7 430.2 465.4 438.9 473.1 447.0 480.9 454.7 488.7 461.7 496.4 468.1 504.2 473.8 512.1 478.9 A244.20 244.20 0 0 1 509.04 483.77 L501.2 478.5 493.4 472.5 485.5 465.8 477.7 458.6 470.0 450.7 462.2 442.4 454.5 433.5 446.8 424.2 439.1 414.4 431.5 404.3 423.9 393.8 416.4 383.0 408.9 372.0 401.6 360.6 394.3 349.1 387.1 337.4 380.1 325.5 373.2 313.5 366.5 301.4 359.9 289.3 353.5 277.1 347.3 265.0 341.4 252.8 335.7 240.8 330.3 228.8 325.2 216.9 320.4 205.1 316.0 193.6 312.0 182.2 308.4 171.0 305.2 160.0 302.4 149.3 300.2 138.9 298.5 128.8 297.4 119.0 296.9 109.5 Z" stroke-width="1.60"/>
<path d="M290.30 109.75 A244.20 244.20 0 0 1 296.87 109.51 L297.3 120.8 298.1 132.3 299.3 144.1 300.8 156.1 302.6 168.3 304.7 180.8 307.0 193.5 309.6 206.3 312.4 219.3 315.4 232.5 318.6 245.7 321.9 259.1 325.4 272.6 329.1 286.1 332.9 299.7 336.8 313.3 340.8 327.0 344.9 340.6 349.2 354.2 353.5 367.7 357.9 381.2 362.4 394.6 366.9 407.8 371.6 421.0 376.3 433.9 381.1 446.7 386.0 459.3 391.0 471.6 396.1 483.7 401.3 495.4 406.5 506.9 411.9 518.1 417.4 528.9 423.1 539.3 428.9 549.3 434.8 558.8 A244.20 244.20 0 0 1 429.22 562.34 L423.4 552.4 417.7 542.1 412.2 531.5 406.8 520.4 401.5 509.1 396.3 497.4 391.3 485.5 386.3 473.3 381.4 460.8 376.5 448.2 371.8 435.3 367.1 422.3 362.5 409.2 358.0 395.9 353.5 382.5 349.1 369.0 344.8 355.5 340.6 341.9 336.5 328.3 332.4 314.7 328.5 301.1 324.7 287.5 321.0 274.0 317.4 260.5 314.0 247.1 310.7 233.8 307.6 220.6 304.7 207.6 302.0 194.7 299.5 181.9 297.3 169.4 295.3 157.0 293.6 144.9 292.1 132.9 291.0 121.2 290.3 109.7 Z" stroke-width="1.60"/>
</g>
<g opacity="0.85" fill="#fdcf3b" stroke="#fdcf3b" stroke-linejoin="round">
<path d="M227.42 121.25 A244.20 244.20 0 0 1 244.02 116.53 L245.6 124.4 246.5 132.7 246.9 141.4 246.7 150.6 246.0 160.2 244.8 170.1 243.1 180.3 240.9 190.8 238.4 201.6 235.4 212.6 232.0 223.7 228.3 235.1 224.3 246.5 220.0 258.0 215.3 269.6 210.4 281.1 205.2 292.6 199.8 304.1 194.2 315.4 188.4 326.6 182.4 337.7 176.2 348.5 169.9 359.0 163.5 369.3 156.9 379.2 150.2 388.8 143.5 398.0 136.6 406.7 129.7 414.9 122.7 422.6 115.7 429.7 108.7 436.2 101.6 442.0 94.5 447.2 87.4 451.6 80.3 455.2 A244.20 244.20 0 0 1 73.72 439.31 L80.6 436.3 87.5 432.6 94.4 428.1 101.3 422.9 108.2 417.1 115.1 410.6 121.9 403.6 128.7 396.0 135.4 388.0 142.0 379.4 148.5 370.5 154.9 361.2 161.2 351.5 167.3 341.5 173.3 331.3 179.1 320.8 184.6 310.1 190.0 299.3 195.1 288.4 200.0 277.4 204.6 266.4 208.9 255.4 213.0 244.4 216.6 233.4 220.0 222.6 222.9 211.9 225.5 201.5 227.6 191.2 229.4 181.2 230.6 171.5 231.4 162.1 231.7 153.0 231.5 144.4 230.7 136.2 229.4 128.5 227.4 121.2 Z" stroke-width="1.60"/>
<path d="M268.22 111.85 A244.20 244.20 0 0 1 290.30 109.75 L291.0 122.6 291.8 135.5 292.8 148.5 293.8 161.6 295.0 174.8 296.3 188.1 297.6 201.4 299.0 214.9 300.5 228.4 302.0 241.9 303.6 255.6 305.3 269.2 307.0 282.9 308.8 296.6 310.6 310.4 312.4 324.2 314.3 337.9 316.2 351.7 318.1 365.5 320.1 379.3 322.1 393.0 324.2 406.7 326.2 420.4 328.3 434.1 330.5 447.6 332.7 461.2 334.9 474.6 337.2 488.0 339.5 501.3 341.9 514.6 344.3 527.7 346.8 540.7 349.4 553.6 352.0 566.4 354.8 579.0 357.6 591.5 A244.20 244.20 0 0 1 335.80 595.56 L333.9 582.1 332.1 568.7 330.2 555.3 328.4 541.8 326.5 528.4 324.6 515.0 322.8 501.5 320.9 488.1 319.0 474.7 317.2 461.2 315.3 447.8 313.4 434.3 311.5 420.9 309.7 407.5 307.8 394.0 305.9 380.6 304.0 367.1 302.2 353.7 300.3 340.2 298.4 326.8 296.5 313.4 294.6 299.9 292.8 286.5 290.9 273.0 289.0 259.6 287.1 246.2 285.2 232.7 283.3 219.3 281.5 205.8 279.6 192.4 277.7 179.0 275.8 165.5 273.9 152.1 272.0 138.7 270.1 125.3 268.2 111.9 Z" stroke-width="1.60"/>
<path d="M244.02 116.53 A244.20 244.20 0 0 1 268.22 111.85 L269.6 123.0 270.7 134.5 271.4 146.3 271.9 158.4 272.1 170.8 272.0 183.4 271.8 196.3 271.3 209.4 270.7 222.6 269.8 236.1 268.8 249.7 267.7 263.4 266.4 277.3 264.9 291.3 263.4 305.3 261.7 319.4 259.9 333.5 258.1 347.6 256.1 361.7 254.0 375.7 251.8 389.7 249.5 403.7 247.1 417.5 244.7 431.2 242.1 444.7 239.4 458.1 236.6 471.3 233.6 484.2 230.5 497.0 227.3 509.4 224.0 521.6 220.4 533.5 216.7 545.0 212.8 556.2 208.7 566.9 204.4 577.3 A244.20 244.20 0 0 1 182.33 566.29 L187.2 557.1 191.9 547.4 196.3 537.2 200.4 526.5 204.4 515.4 208.1 503.9 211.7 492.0 215.1 479.8 218.4 467.2 221.4 454.4 224.4 441.3 227.2 428.1 229.8 414.6 232.4 400.9 234.8 387.1 237.0 373.2 239.1 359.3 241.1 345.2 243.0 331.2 244.7 317.2 246.3 303.2 247.7 289.3 248.9 275.4 250.0 261.7 250.9 248.2 251.6 234.8 252.1 221.6 252.3 208.7 252.3 196.0 252.1 183.6 251.6 171.5 250.7 159.7 249.6 148.3 248.1 137.3 246.3 126.7 244.0 116.5 Z" stroke-width="1.60"/>
</g>
<g opacity="0.72" fill="#f72a00" stroke="#f72a00" stroke-linejoin="round">
<path d="M210.82 127.27 A244.20 244.20 0 0 1 216.95 124.89 L220.4 133.3 224.6 141.8 229.5 150.4 235.0 159.1 241.1 167.8 247.8 176.7 255.0 185.6 262.6 194.5 270.7 203.5 279.3 212.5 288.2 221.5 297.4 230.5 306.9 239.5 316.8 248.4 326.8 257.3 337.1 266.0 347.6 274.7 358.2 283.2 368.9 291.6 379.7 299.8 390.6 307.8 401.5 315.5 412.5 323.1 423.4 330.3 434.3 337.2 445.1 343.8 455.8 350.1 466.4 355.9 476.9 361.3 487.2 366.2 497.3 370.7 507.3 374.6 517.0 378.0 526.5 380.8 535.7 382.9 544.7 384.4 A244.20 244.20 0 0 1 543.74 390.89 L534.6 389.2 525.2 386.8 515.6 383.8 505.8 380.2 495.7 376.0 485.5 371.4 475.0 366.2 464.5 360.6 453.8 354.6 443.0 348.2 432.1 341.5 421.1 334.4 410.1 327.1 399.1 319.4 388.1 311.6 377.1 303.5 366.2 295.2 355.4 286.7 344.7 278.1 334.1 269.4 323.7 260.6 313.5 251.7 303.6 242.7 293.9 233.7 284.5 224.7 275.4 215.6 266.7 206.5 258.4 197.5 250.6 188.5 243.2 179.5 236.3 170.6 230.0 161.8 224.2 153.0 219.1 144.3 214.6 135.8 210.8 127.3 Z" stroke-width="1.60"/>
<path d="M195.07 134.30 A244.20 244.20 0 0 1 201.01 131.49 L206.5 143.4 212.1 155.3 217.7 167.2 223.5 179.2 229.3 191.2 235.3 203.3 241.3 215.4 247.3 227.5 253.5 239.6 259.6 251.8 265.9 263.9 272.1 276.1 278.5 288.3 284.8 300.5 291.2 312.7 297.6 325.0 304.0 337.2 310.5 349.4 316.9 361.6 323.4 373.8 329.9 385.9 336.5 398.1 343.0 410.2 349.5 422.2 356.1 434.3 362.7 446.3 369.3 458.2 375.8 470.1 382.5 481.9 389.1 493.7 395.7 505.3 402.4 516.9 409.0 528.4 415.7 539.8 422.5 551.1 429.2 562.3 A244.20 244.20 0 0 1 423.56 565.67 L417.0 554.1 410.4 542.5 403.9 530.8 397.3 519.1 390.8 507.3 384.3 495.5 377.8 483.6 371.3 471.7 364.8 459.8 358.3 447.8 351.9 435.8 345.4 423.8 338.9 411.8 332.5 399.7 326.0 387.6 319.6 375.5 313.2 363.4 306.8 351.3 300.3 339.2 294.0 327.1 287.6 315.0 281.2 302.9 274.8 290.8 268.5 278.7 262.2 266.6 255.9 254.5 249.7 242.4 243.4 230.3 237.2 218.2 231.1 206.2 225.0 194.2 218.9 182.2 212.8 170.2 206.9 158.2 200.9 146.2 195.1 134.3 Z" stroke-width="1.60"/>
<path d="M201.01 131.49 A244.20 244.20 0 0 1 210.82 127.27 L215.1 137.3 219.9 147.5 225.2 157.8 230.9 168.3 237.0 178.8 243.5 189.5 250.3 200.2 257.4 211.0 264.9 221.9 272.6 232.9 280.6 243.9 288.7 254.9 297.1 266.0 305.7 277.0 314.4 288.1 323.2 299.1 332.2 310.1 341.3 321.1 350.5 332.0 359.7 342.8 369.0 353.4 378.4 364.0 387.8 374.3 397.2 384.5 406.6 394.5 416.0 404.3 425.5 413.8 434.9 423.1 444.2 432.0 453.6 440.7 462.9 448.9 472.2 456.8 481.5 464.2 490.7 471.2 499.9 477.8 509.0 483.8 A244.20 244.20 0 0 1 503.15 492.69 L494.0 486.1 484.7 479.0 475.5 471.6 466.2 463.7 456.9 455.5 447.6 446.9 438.3 438.0 428.9 428.8 419.6 419.3 410.2 409.6 400.8 399.7 391.4 389.6 382.0 379.3 372.7 368.8 363.3 358.2 354.1 347.5 344.8 336.7 335.7 325.8 326.6 314.9 317.6 303.9 308.7 292.9 299.9 281.8 291.2 270.7 282.8 259.7 274.5 248.7 266.4 237.7 258.5 226.7 250.8 215.8 243.4 205.0 236.3 194.2 229.5 183.6 223.0 172.9 216.9 162.4 211.2 152.0 205.9 141.7 201.0 131.5 Z" stroke-width="1.60"/>
</g>
<g opacity="0.85" fill="#f84b0e" stroke="#f84b0e" stroke-linejoin="round">
<path d="M164.55 152.08 A244.20 244.20 0 0 1 178.42 143.26 L182.8 151.4 186.9 160.1 190.6 169.4 194.0 179.3 197.1 189.7 200.0 200.5 202.5 211.8 204.9 223.5 206.9 235.5 208.7 247.9 210.4 260.6 211.8 273.5 212.9 286.7 213.9 300.0 214.7 313.5 215.3 327.1 215.7 340.7 216.0 354.4 216.0 368.2 215.8 381.8 215.5 395.4 214.9 408.9 214.2 422.3 213.2 435.4 212.1 448.4 210.7 461.1 209.1 473.5 207.3 485.6 205.2 497.3 202.8 508.6 200.2 519.5 197.3 530.0 194.0 539.9 190.5 549.3 186.6 558.1 182.3 566.3 A244.20 244.20 0 0 1 168.30 557.73 L172.8 550.3 176.9 542.1 180.7 533.4 184.2 524.1 187.3 514.2 190.2 503.9 192.8 493.0 195.0 481.8 197.1 470.2 198.8 458.2 200.4 445.9 201.7 433.4 202.7 420.6 203.6 407.6 204.2 394.5 204.6 381.2 204.8 367.9 204.8 354.6 204.5 341.2 204.1 327.9 203.5 314.7 202.6 301.5 201.5 288.6 200.2 275.8 198.7 263.3 196.9 251.0 194.9 239.1 192.7 227.5 190.2 216.3 187.4 205.5 184.4 195.2 181.1 185.4 177.4 176.2 173.5 167.5 169.2 159.5 164.6 152.1 Z" stroke-width="1.60"/>
<path d="M178.42 143.26 A244.20 244.20 0 0 1 195.07 134.30 L200.3 145.3 205.5 156.6 210.6 168.2 215.5 180.0 220.4 192.0 225.2 204.2 229.9 216.6 234.6 229.2 239.2 241.9 243.7 254.8 248.2 267.7 252.7 280.8 257.1 294.0 261.4 307.3 265.7 320.7 270.0 334.1 274.2 347.5 278.3 361.0 282.4 374.5 286.4 388.0 290.4 401.5 294.3 415.0 298.1 428.4 301.8 441.8 305.4 455.2 308.9 468.4 312.4 481.7 315.6 494.8 318.8 507.8 321.8 520.7 324.6 533.5 327.3 546.2 329.7 558.8 332.0 571.2 334.0 583.5 335.8 595.6 A244.20 244.20 0 0 1 316.99 597.41 L316.1 585.9 314.9 574.1 313.4 562.1 311.6 549.8 309.6 537.4 307.3 524.8 304.7 512.0 302.0 499.1 299.0 486.1 295.9 472.9 292.6 459.6 289.2 446.2 285.6 432.7 281.9 419.2 278.1 405.6 274.2 392.0 270.2 378.3 266.1 364.7 261.9 351.1 257.6 337.6 253.3 324.1 248.8 310.7 244.4 297.4 239.8 284.3 235.2 271.2 230.5 258.4 225.7 245.7 220.8 233.2 215.9 220.9 210.9 208.9 205.8 197.2 200.5 185.7 195.2 174.6 189.7 163.8 184.2 153.3 178.4 143.3 Z" stroke-width="1.60"/>
</g>
<g opacity="0.72" fill="#335fb0" stroke="#335fb0" stroke-linejoin="round">
<path d="M102.60 213.24 A244.20 244.20 0 0 1 106.95 207.25 L116.3 214.5 125.8 222.1 135.2 230.0 144.6 238.2 154.1 246.7 163.6 255.5 173.1 264.6 182.7 273.9 192.2 283.4 201.8 293.0 211.3 302.9 220.9 312.9 230.5 323.0 240.0 333.3 249.5 343.7 259.0 354.1 268.5 364.7 277.9 375.3 287.3 385.9 296.6 396.6 305.8 407.3 314.9 418.1 323.9 428.8 332.8 439.6 341.5 450.3 350.1 461.0 358.6 471.7 366.8 482.3 374.8 492.9 382.6 503.5 390.2 514.0 397.5 524.4 404.5 534.8 411.2 545.2 417.6 555.5 423.6 565.7 A244.20 244.20 0 0 1 417.08 569.25 L411.5 559.1 405.5 548.9 399.1 538.5 392.4 528.2 385.4 517.7 378.0 507.2 370.4 496.6 362.6 486.0 354.5 475.3 346.1 464.6 337.6 453.9 328.9 443.1 320.1 432.3 311.1 421.6 302.0 410.8 292.8 400.0 283.5 389.3 274.1 378.6 264.7 368.0 255.2 357.4 245.7 347.0 236.1 336.6 226.5 326.4 216.9 316.3 207.3 306.3 197.7 296.6 188.1 287.0 178.5 277.6 168.9 268.5 159.4 259.6 149.8 251.1 140.3 242.8 130.9 234.8 121.4 227.3 112.0 220.0 102.6 213.2 Z" stroke-width="1.60"/>
</g>
<g opacity="0.85" fill="#5278bc" stroke="#5278bc" stroke-linejoin="round">
<path d="M106.95 207.25 A244.20 244.20 0 0 1 116.70 195.06 L126.7 203.6 136.8 212.1 147.0 220.6 157.3 229.0 167.7 237.5 178.2 246.0 188.7 254.5 199.2 263.0 209.9 271.4 220.5 279.9 231.3 288.4 242.0 296.8 252.8 305.3 263.6 313.7 274.5 322.2 285.4 330.6 296.3 339.0 307.2 347.5 318.1 355.9 329.0 364.2 340.0 372.6 350.9 380.9 361.8 389.2 372.8 397.5 383.7 405.8 394.6 414.0 405.5 422.1 416.4 430.2 427.3 438.3 438.2 446.3 449.1 454.2 459.9 462.1 470.7 469.9 481.6 477.6 492.4 485.2 503.2 492.7 A244.20 244.20 0 0 1 493.86 505.23 L483.3 496.9 472.7 488.5 462.1 480.2 451.5 471.9 440.8 463.5 430.2 455.2 419.5 446.9 408.8 438.5 398.1 430.2 387.3 421.9 376.6 413.5 365.8 405.2 355.1 396.9 344.3 388.6 333.5 380.2 322.7 371.9 311.9 363.6 301.1 355.3 290.4 347.0 279.6 338.7 268.8 330.4 257.9 322.1 247.1 313.8 236.3 305.5 225.5 297.2 214.8 289.0 204.0 280.7 193.2 272.5 182.4 264.3 171.6 256.1 160.8 247.9 150.0 239.7 139.3 231.6 128.5 223.4 117.7 215.3 106.9 207.3 Z" stroke-width="1.60"/>
</g>
<g opacity="0.85" fill="#f84b0e" stroke="#f84b0e" stroke-linejoin="round">
<path d="M147.46 164.90 A244.20 244.20 0 0 1 164.55 152.08 L168.0 157.7 170.9 163.9 173.4 170.7 175.5 177.9 177.1 185.6 178.4 193.7 179.2 202.3 179.6 211.1 179.6 220.3 179.2 229.7 178.5 239.3 177.4 249.2 175.9 259.1 174.1 269.2 172.0 279.4 169.6 289.5 166.8 299.7 163.8 309.8 160.5 319.8 156.9 329.7 153.0 339.5 148.9 349.0 144.6 358.3 140.0 367.3 135.3 375.9 130.3 384.2 125.2 392.2 120.0 399.6 114.5 406.7 109.0 413.2 103.3 419.1 97.5 424.5 91.7 429.2 85.7 433.3 79.7 436.7 73.7 439.3 A244.20 244.20 0 0 1 67.11 419.00 L72.9 417.0 78.6 414.4 84.4 411.1 90.0 407.2 95.6 402.7 101.1 397.6 106.5 392.1 111.8 386.0 116.9 379.5 121.8 372.6 126.5 365.3 131.1 357.6 135.4 349.7 139.5 341.4 143.3 333.0 146.9 324.3 150.2 315.4 153.2 306.5 155.9 297.4 158.3 288.3 160.3 279.1 162.1 270.0 163.5 260.9 164.5 251.9 165.2 243.0 165.5 234.3 165.5 225.8 165.0 217.6 164.2 209.6 163.0 201.9 161.4 194.6 159.4 187.7 157.0 181.3 154.2 175.3 151.1 169.8 147.5 164.9 Z" stroke-width="1.60"/>
</g>
<g opacity="0.90" fill="#5c7fc0" stroke="#5c7fc0" stroke-linejoin="round">
<path d="M116.70 195.06 A244.20 244.20 0 0 1 139.06 172.12 L146.4 179.9 154.3 187.6 162.6 195.3 171.5 202.9 180.8 210.5 190.5 218.1 200.6 225.5 211.1 233.0 221.9 240.4 233.0 247.8 244.3 255.1 255.9 262.4 267.7 269.6 279.7 276.7 291.8 283.8 304.1 290.8 316.5 297.7 329.0 304.5 341.5 311.2 354.1 317.8 366.6 324.2 379.2 330.5 391.7 336.6 404.2 342.5 416.7 348.3 429.0 353.7 441.2 359.0 453.3 363.9 465.3 368.6 477.1 373.0 488.7 377.0 500.2 380.6 511.4 383.9 522.4 386.7 533.2 389.0 543.7 390.9 A244.20 244.20 0 0 1 536.79 422.16 L525.5 418.7 514.1 414.9 502.5 410.8 490.8 406.4 479.0 401.7 467.1 396.8 455.0 391.6 442.9 386.2 430.7 380.6 418.4 374.8 406.0 368.9 393.5 362.8 381.1 356.6 368.6 350.3 356.0 343.8 343.5 337.3 331.0 330.6 318.5 323.9 306.0 317.1 293.6 310.3 281.3 303.4 269.0 296.4 256.8 289.5 244.8 282.4 232.9 275.3 221.2 268.2 209.6 261.1 198.2 253.9 187.1 246.7 176.1 239.5 165.5 232.2 155.1 224.9 145.0 217.5 135.2 210.1 125.8 202.6 116.7 195.1 Z" stroke-width="1.60"/>
<path d="M82.26 247.95 A244.20 244.20 0 0 1 102.60 213.24 L110.5 219.1 118.3 225.7 126.1 232.8 133.9 240.6 141.6 248.8 149.4 257.6 157.0 266.9 164.7 276.5 172.3 286.6 179.9 297.1 187.4 307.8 194.8 318.9 202.2 330.2 209.6 341.8 216.8 353.5 223.9 365.5 230.9 377.5 237.8 389.7 244.5 401.9 251.1 414.3 257.5 426.6 263.8 438.9 269.7 451.2 275.5 463.4 281.0 475.6 286.2 487.6 291.1 499.6 295.7 511.3 299.9 522.9 303.8 534.3 307.2 545.5 310.2 556.4 312.7 567.1 314.7 577.5 316.1 587.6 317.0 597.4 A244.20 244.20 0 0 1 276.77 596.50 L277.3 588.0 277.2 579.0 276.5 569.7 275.3 560.0 273.5 550.0 271.2 539.7 268.4 529.1 265.2 518.3 261.5 507.2 257.5 496.0 253.0 484.6 248.3 473.1 243.2 461.4 237.8 449.8 232.2 438.1 226.3 426.4 220.1 414.7 213.8 403.1 207.2 391.6 200.5 380.3 193.7 369.1 186.7 358.2 179.6 347.4 172.4 337.0 165.1 326.9 157.7 317.2 150.2 307.8 142.8 298.9 135.2 290.5 127.7 282.5 120.1 275.1 112.5 268.4 104.9 262.2 97.4 256.7 89.8 252.0 82.3 247.9 Z" stroke-width="1.60"/>
<path d="M64.38 299.05 A244.20 244.20 0 0 1 82.26 247.95 L88.3 251.3 94.3 255.3 100.2 260.1 105.9 265.6 111.6 271.7 117.1 278.4 122.5 285.6 127.8 293.4 132.8 301.6 137.7 310.3 142.5 319.4 147.0 328.8 151.3 338.5 155.4 348.5 159.3 358.8 162.9 369.2 166.3 379.9 169.4 390.6 172.3 401.4 174.9 412.2 177.1 423.0 179.1 433.8 180.7 444.5 182.1 455.1 183.0 465.5 183.7 475.7 183.9 485.7 183.8 495.4 183.4 504.7 182.5 513.7 181.2 522.3 179.5 530.4 177.4 538.1 174.8 545.2 171.8 551.8 168.3 557.7 A244.20 244.20 0 0 1 126.63 523.17 L130.5 519.0 134.0 514.3 137.2 509.1 140.1 503.5 142.6 497.4 144.8 491.0 146.6 484.2 148.0 477.2 149.1 469.9 149.8 462.3 150.1 454.6 150.1 446.7 149.8 438.6 149.0 430.5 148.0 422.4 146.6 414.2 144.8 406.1 142.7 398.0 140.3 390.0 137.6 382.1 134.6 374.4 131.3 366.9 127.8 359.5 124.0 352.5 119.9 345.7 115.6 339.3 111.1 333.1 106.4 327.4 101.5 322.1 96.5 317.2 91.4 312.9 86.1 309.0 80.7 305.6 75.3 302.8 69.9 300.6 64.4 299.0 Z" stroke-width="1.60"/>
<path d="M58.20 353.65 A244.20 244.20 0 0 1 64.38 299.05 L69.0 300.3 73.6 301.9 78.1 303.8 82.4 306.0 86.6 308.5 90.6 311.3 94.3 314.3 97.9 317.5 101.1 320.9 104.1 324.6 106.8 328.4 109.2 332.3 111.2 336.3 112.9 340.5 114.3 344.8 115.3 349.1 115.9 353.5 116.2 357.9 116.1 362.3 115.7 366.7 114.9 371.0 113.7 375.4 112.2 379.6 110.3 383.8 108.1 387.8 105.6 391.7 102.8 395.5 99.7 399.0 96.3 402.4 92.7 405.6 88.9 408.5 84.8 411.2 80.6 413.6 76.2 415.7 71.7 417.5 67.1 419.0 A244.20 244.20 0 0 1 58.45 364.73 L63.0 364.5 67.4 364.3 71.8 364.0 76.1 363.7 80.2 363.3 84.1 363.0 87.9 362.6 91.4 362.2 94.6 361.8 97.6 361.4 100.2 361.0 102.5 360.6 104.5 360.2 106.2 359.7 107.5 359.3 108.4 358.9 109.0 358.5 109.1 358.0 108.9 357.6 108.4 357.2 107.4 356.9 106.1 356.5 104.4 356.1 102.4 355.8 100.1 355.5 97.4 355.2 94.5 354.9 91.2 354.7 87.7 354.4 83.9 354.2 80.0 354.1 75.9 353.9 71.6 353.8 67.2 353.7 62.7 353.7 58.2 353.7 Z" stroke-width="1.60"/>
</g>
<text transform="translate(50.74 241.55) rotate(-65.99)" font-family="Liberation Sans, sans-serif" font-size="11.00" font-weight="normal" fill="#6a6d72" text-anchor="middle" dy="0.35em" textLength="29.0" lengthAdjust="spacingAndGlyphs">U.S.A.</text>
<text transform="translate(164.94 114.89) rotate(-29.93)" font-family="Liberation Sans, sans-serif" font-size="11.00" font-weight="normal" fill="#6a6d72" text-anchor="middle" dy="0.35em" textLength="20.0" lengthAdjust="spacingAndGlyphs">U.K.</text>
<text transform="translate(261.54 81.20) rotate(-8.53)" font-family="Liberation Sans, sans-serif" font-size="11.00" font-weight="normal" fill="#6a6d72" text-anchor="middle" dy="0.35em" textLength="48.0" lengthAdjust="spacingAndGlyphs">GERMANY</text>
<text transform="translate(341.45 80.93) rotate(8.15)" font-family="Liberation Sans, sans-serif" font-size="11.00" font-weight="normal" fill="#6a6d72" text-anchor="middle" dy="0.35em" textLength="40.0" lengthAdjust="spacingAndGlyphs">FRANCE</text>
<text transform="translate(392.72 93.38) rotate(19.14)" font-family="Liberation Sans, sans-serif" font-size="11.00" font-weight="normal" fill="#6a6d72" text-anchor="middle" dy="0.35em" textLength="37.0" lengthAdjust="spacingAndGlyphs">RUSSIA</text>
<text transform="translate(551.35 235.65) rotate(64.64)" font-family="Liberation Sans, sans-serif" font-size="11.00" font-weight="normal" fill="#6a6d72" text-anchor="middle" dy="0.35em" textLength="42.5" lengthAdjust="spacingAndGlyphs">OTHERS</text>
<text transform="translate(439.69 97.07) rotate(28.10)" font-family="Liberation Sans, sans-serif" font-size="11.00" font-weight="normal" fill="#6a6d72" text-anchor="middle" dy="0.35em" textLength="44.5" lengthAdjust="spacingAndGlyphs">SWEDEN</text>
<line x1="435.6" y1="104.3" x2="430.3" y2="117.4" stroke="#888" stroke-width="0.7"/>
<text transform="translate(485.31 147.63) rotate(37.50)" font-family="Liberation Sans, sans-serif" font-size="11.00" font-weight="normal" fill="#6a6d72" text-anchor="middle" dy="0.35em" textLength="78.0" lengthAdjust="spacingAndGlyphs">NETHERLANDS</text>
<text transform="translate(87.46 257.91) rotate(-65.99)" font-family="Liberation Sans, sans-serif" font-size="12.00" font-weight="bold" fill="#151525" text-anchor="middle" dy="0.35em" textLength="21.0" lengthAdjust="spacingAndGlyphs">249</text>
<text transform="translate(185.00 149.73) rotate(-29.93)" font-family="Liberation Sans, sans-serif" font-size="12.00" font-weight="bold" fill="#151525" text-anchor="middle" dy="0.35em" textLength="14.0" lengthAdjust="spacingAndGlyphs">98</text>
<text transform="translate(267.51 120.95) rotate(-8.53)" font-family="Liberation Sans, sans-serif" font-size="12.00" font-weight="bold" fill="#151525" text-anchor="middle" dy="0.35em" textLength="14.0" lengthAdjust="spacingAndGlyphs">97</text>
<text transform="translate(335.76 120.73) rotate(8.15)" font-family="Liberation Sans, sans-serif" font-size="12.00" font-weight="bold" fill="#151525" text-anchor="middle" dy="0.35em" textLength="14.0" lengthAdjust="spacingAndGlyphs">49</text>
<text transform="translate(379.54 131.36) rotate(19.14)" font-family="Liberation Sans, sans-serif" font-size="12.00" font-weight="bold" fill="#151525" text-anchor="middle" dy="0.35em" textLength="14.0" lengthAdjust="spacingAndGlyphs">38</text>
<text transform="translate(413.24 146.09) rotate(28.10)" font-family="Liberation Sans, sans-serif" font-size="12.00" font-weight="bold" fill="#151525" text-anchor="middle" dy="0.35em" textLength="14.0" lengthAdjust="spacingAndGlyphs">28</text>
<text transform="translate(437.50 161.00) rotate(35.04)" font-family="Liberation Sans, sans-serif" font-size="12.00" font-weight="bold" fill="#151525" text-anchor="middle" dy="0.35em" textLength="14.0" lengthAdjust="spacingAndGlyphs">17</text>
<text transform="translate(515.03 252.87) rotate(64.64)" font-family="Liberation Sans, sans-serif" font-size="12.00" font-weight="bold" fill="#151525" text-anchor="middle" dy="0.35em" textLength="21.0" lengthAdjust="spacingAndGlyphs">263</text>
<defs><path id="pPhysio" d="M24.68 402.59 A282.00 282.00 0 0 0 68.53 511.21"/><path id="pPhysics" d="M156.78 595.14 A282.00 282.00 0 0 0 189.63 612.12"/><path id="pChem" d="M325.08 634.74 A282.00 282.00 0 0 0 374.30 626.33"/><path id="pLit" d="M457.80 588.97 A282.00 282.00 0 0 0 496.87 557.87"/><path id="pPeace" d="M535.02 513.06 A282.00 282.00 0 0 0 562.29 463.11"/><path id="pEcon" d="M572.79 433.74 A282.00 282.00 0 0 0 583.77 334.87"/></defs>
<text font-family="Liberation Sans, sans-serif" font-size="11.50" font-weight="normal" fill="#6a6d72" textLength="118.0" lengthAdjust="spacingAndGlyphs"><textPath href="#pPhysio" textLength="118.0" lengthAdjust="spacingAndGlyphs">Physiology or Medicine</textPath></text>
<text font-family="Liberation Sans, sans-serif" font-size="11.50" font-weight="normal" fill="#6a6d72" textLength="37.0" lengthAdjust="spacingAndGlyphs"><textPath href="#pPhysics" textLength="37.0" lengthAdjust="spacingAndGlyphs">Physics</textPath></text>
<text font-family="Liberation Sans, sans-serif" font-size="11.50" font-weight="normal" fill="#6a6d72" textLength="50.0" lengthAdjust="spacingAndGlyphs"><textPath href="#pChem" textLength="50.0" lengthAdjust="spacingAndGlyphs">Chemistry</textPath></text>
<text font-family="Liberation Sans, sans-serif" font-size="11.50" font-weight="normal" fill="#6a6d72" textLength="50.0" lengthAdjust="spacingAndGlyphs"><textPath href="#pLit" textLength="50.0" lengthAdjust="spacingAndGlyphs">Literature</textPath></text>
<text font-family="Liberation Sans, sans-serif" font-size="11.50" font-weight="normal" fill="#6a6d72" textLength="57.0" lengthAdjust="spacingAndGlyphs"><textPath href="#pPeace" textLength="57.0" lengthAdjust="spacingAndGlyphs">Peace Prize</textPath></text>
<text font-family="Liberation Sans, sans-serif" font-size="11.50" font-weight="normal" fill="#6a6d72" textLength="100.0" lengthAdjust="spacingAndGlyphs"><textPath href="#pEcon" textLength="100.0" lengthAdjust="spacingAndGlyphs">Economic Sciences</textPath></text>
<text transform="translate(30.70 463.32) rotate(428.02)" font-family="Liberation Sans, sans-serif" font-size="12.00" font-weight="bold" fill="#151515" text-anchor="middle" dy="0.35em" textLength="21.0" lengthAdjust="spacingAndGlyphs">201</text>
<text transform="translate(167.87 613.94) rotate(387.33)" font-family="Liberation Sans, sans-serif" font-size="12.00" font-weight="bold" fill="#151515" text-anchor="middle" dy="0.35em" textLength="21.0" lengthAdjust="spacingAndGlyphs">194</text>
<text transform="translate(351.73 642.47) rotate(350.31)" font-family="Liberation Sans, sans-serif" font-size="12.00" font-weight="bold" fill="#151515" text-anchor="middle" dy="0.35em" textLength="21.0" lengthAdjust="spacingAndGlyphs">163</text>
<text transform="translate(484.88 582.89) rotate(321.48)" font-family="Liberation Sans, sans-serif" font-size="12.00" font-weight="bold" fill="#151515" text-anchor="middle" dy="0.35em" textLength="21.0" lengthAdjust="spacingAndGlyphs">109</text>
<text transform="translate(559.57 494.05) rotate(298.63)" font-family="Liberation Sans, sans-serif" font-size="12.00" font-weight="bold" fill="#151515" text-anchor="middle" dy="0.35em" textLength="25.5" lengthAdjust="spacingAndGlyphs">101*</text>
<text transform="translate(585.42 429.48) rotate(-75.00)" font-family="Liberation Sans, sans-serif" font-size="12.00" font-weight="bold" fill="#151515" text-anchor="middle" dy="0.35em" textLength="14.0" lengthAdjust="spacingAndGlyphs">71</text>
<circle cx="558.2" cy="64.3" r="40.5" fill="#8ea4b0"/>
<text x="558.2" y="49.4" font-family="Liberation Sans, sans-serif" font-size="12.4" font-weight="bold" fill="#dfe5e8" text-anchor="middle" textLength="41.5" lengthAdjust="spacingAndGlyphs">TOTAL</text>
<text x="558.7" y="82" font-family="Liberation Sans, sans-serif" font-size="30" font-weight="bold" fill="#e6e8ea" text-anchor="middle" textLength="53.5" lengthAdjust="spacingAndGlyphs">839</text>
<rect x="0" y="0" width="603" height="1.2" fill="#222"/>
<text x="1.5" y="29.8" font-family="Liberation Sans, sans-serif" font-size="15.40" font-weight="normal" fill="#5a5a5a" text-anchor="start" textLength="76.0" lengthAdjust="spacingAndGlyphs">Nobel Prize</text>
<text x="1.0" y="54.7" font-family="Liberation Sans, sans-serif" font-size="21.60" font-weight="bold" fill="#111" text-anchor="start" textLength="210.5" lengthAdjust="spacingAndGlyphs">NOBEL LAUREATES</text>
<text x="1.0" y="75.2" font-family="Liberation Sans, sans-serif" font-size="11.40" font-weight="normal" fill="#6e6e6e" text-anchor="start" textLength="165.0" lengthAdjust="spacingAndGlyphs">By country of origin and number</text>
<text x="1.0" y="89.6" font-family="Liberation Sans, sans-serif" font-size="11.40" font-weight="normal" fill="#6e6e6e" text-anchor="start" textLength="92.0" lengthAdjust="spacingAndGlyphs">of prizes awarded,</text>
<text x="1.0" y="104.3" font-family="Liberation Sans, sans-serif" font-size="11.40" font-weight="normal" fill="#6e6e6e" text-anchor="start" textLength="58.0" lengthAdjust="spacingAndGlyphs">1901 – 2012</text>
<text x="0.5" y="611.9" font-family="Liberation Sans, sans-serif" font-size="9.10" font-weight="normal" fill="#686868" text-anchor="start" textLength="78.0" lengthAdjust="spacingAndGlyphs">* Does not include</text>
<text x="0.5" y="623.6" font-family="Liberation Sans, sans-serif" font-size="9.10" font-weight="normal" fill="#686868" text-anchor="start" textLength="66.0" lengthAdjust="spacingAndGlyphs">24 Peace Prizes</text>
<text x="0.5" y="635.2" font-family="Liberation Sans, sans-serif" font-size="9.10" font-weight="normal" fill="#686868" text-anchor="start" textLength="112.0" lengthAdjust="spacingAndGlyphs">awarded to organisations.</text>
<text x="1.0" y="668.3" font-family="Liberation Sans, sans-serif" font-size="9.80" font-weight="normal" fill="#686868" text-anchor="start" textLength="112.0" lengthAdjust="spacingAndGlyphs">Source: Nobel Foundation</text>
<text x="605.0" y="596.9" font-family="Liberation Sans, sans-serif" font-size="9.10" font-weight="normal" fill="#767676" text-anchor="end" textLength="71.2" lengthAdjust="spacingAndGlyphs">Note: Data for U.K.</text>
<text x="605.0" y="608.8" font-family="Liberation Sans, sans-serif" font-size="9.10" font-weight="normal" fill="#767676" text-anchor="end" textLength="87.6" lengthAdjust="spacingAndGlyphs">includes former British</text>
<text x="605.0" y="620.6" font-family="Liberation Sans, sans-serif" font-size="9.10" font-weight="normal" fill="#767676" text-anchor="end" textLength="112.8" lengthAdjust="spacingAndGlyphs">territories; Germany includes</text>
<text x="605.0" y="632.5" font-family="Liberation Sans, sans-serif" font-size="9.10" font-weight="normal" fill="#767676" text-anchor="end" textLength="124.6" lengthAdjust="spacingAndGlyphs">areas occupied by Germany and</text>
<text x="605.0" y="643.9" font-family="Liberation Sans, sans-serif" font-size="9.10" font-weight="normal" fill="#767676" text-anchor="end" textLength="148.3" lengthAdjust="spacingAndGlyphs">formerly known as Germany as well as</text>
<text x="605.0" y="655.7" font-family="Liberation Sans, sans-serif" font-size="9.10" font-weight="normal" fill="#767676" text-anchor="end" textLength="155.8" lengthAdjust="spacingAndGlyphs">Bavaria and Prussia; Russia includes the</text>
<text x="605.0" y="667.5" font-family="Liberation Sans, sans-serif" font-size="9.10" font-weight="normal" fill="#767676" text-anchor="end" textLength="138.0" lengthAdjust="spacingAndGlyphs">former Russian Empire and U.S.S.R.</text>
<rect x="0" y="674.9" width="606" height="1.4" fill="#333"/>
<text x="0.5" y="684.9" font-family="Liberation Sans, sans-serif" font-size="6.30" font-weight="normal" fill="#777" text-anchor="start" textLength="64.0" lengthAdjust="spacingAndGlyphs">W. Foo, 04/10/2013</text>
<circle cx="567.9" cy="682.2" r="2.7" fill="none" stroke="#3a3a3a" stroke-width="2.0" stroke-dasharray="1.2 0.5"/>
<text x="574.4" y="684.7" font-family="Liberation Sans, sans-serif" font-size="6.60" font-weight="bold" fill="#333" text-anchor="start" textLength="32.0" lengthAdjust="spacingAndGlyphs">REUTERS</text>
</svg>
</body></html>
